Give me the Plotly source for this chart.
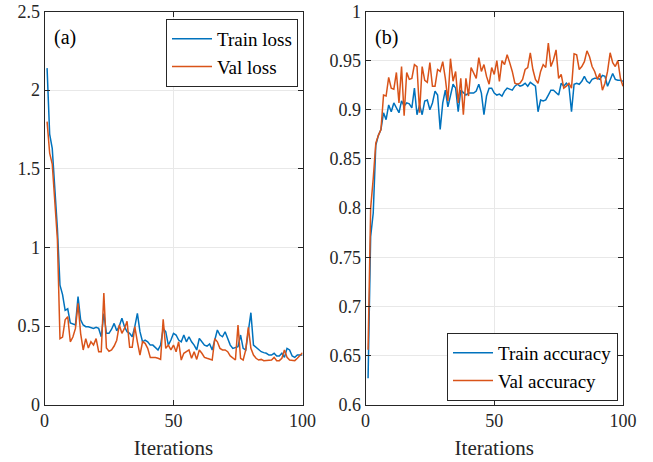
import plotly.graph_objects as go

iterations = list(range(1, 101))

train_loss = [2.14, 1.72, 1.63, 1.40, 1.12, 0.76, 0.70, 0.60, 0.61, 0.52,
              0.513, 0.507, 0.687, 0.54, 0.507, 0.496, 0.496, 0.492, 0.485, 0.492,
              0.485, 0.432, 0.58, 0.454, 0.454, 0.48, 0.517, 0.47, 0.50, 0.55,
              0.496, 0.464, 0.454, 0.432, 0.496, 0.58, 0.464, 0.40, 0.411, 0.40,
              0.379, 0.379, 0.365, 0.348, 0.379, 0.485, 0.464, 0.379, 0.411, 0.454,
              0.443, 0.411, 0.40, 0.443, 0.40, 0.432, 0.40, 0.379, 0.348, 0.422,
              0.40, 0.379, 0.373, 0.386, 0.348, 0.411, 0.475, 0.443, 0.432, 0.464,
              0.422, 0.379, 0.358, 0.365, 0.369, 0.443, 0.358, 0.348, 0.475, 0.585,
              0.379, 0.365, 0.352, 0.337, 0.331, 0.327, 0.316, 0.316, 0.327, 0.310,
              0.310, 0.327, 0.301, 0.358, 0.348, 0.310, 0.301, 0.316, 0.316, 0.316]

val_loss = [1.80, 1.60, 1.53, 1.30, 1.05, 0.42, 0.43, 0.54, 0.56, 0.40,
            0.43, 0.485, 0.644, 0.454, 0.348, 0.42, 0.36, 0.40, 0.38, 0.42,
            0.337, 0.337, 0.71, 0.36, 0.34, 0.348, 0.373, 0.41, 0.507, 0.454,
            0.485, 0.53, 0.365, 0.365, 0.496, 0.40, 0.316, 0.40, 0.39, 0.358,
            0.30, 0.30, 0.30, 0.295, 0.288, 0.543, 0.358, 0.379, 0.348, 0.379,
            0.337, 0.40, 0.284, 0.327, 0.337, 0.348, 0.295, 0.337, 0.288, 0.348,
            0.327, 0.301, 0.295, 0.288, 0.284, 0.42, 0.40, 0.358, 0.348, 0.348,
            0.337, 0.31, 0.295, 0.284, 0.507, 0.295, 0.284, 0.348, 0.492, 0.358,
            0.316, 0.295, 0.284, 0.288, 0.28, 0.28, 0.284, 0.284, 0.301, 0.28,
            0.28, 0.295, 0.348, 0.301, 0.284, 0.28, 0.28, 0.295, 0.31, 0.33]

train_acc = [0.627, 0.771, 0.795, 0.864, 0.874, 0.880, 0.897, 0.890, 0.905, 0.898,
             0.907, 0.902, 0.897, 0.909, 0.904, 0.907, 0.906, 0.902, 0.922, 0.895,
             0.905, 0.895, 0.909, 0.910, 0.900, 0.907, 0.919, 0.915, 0.880, 0.907,
             0.920, 0.903, 0.915, 0.926, 0.922, 0.898, 0.920, 0.917, 0.915, 0.917,
             0.917, 0.917, 0.919, 0.926, 0.917, 0.895, 0.914, 0.922, 0.922, 0.917,
             0.915, 0.916, 0.914, 0.919, 0.922, 0.921, 0.920, 0.924, 0.926, 0.924,
             0.925, 0.927, 0.924, 0.928, 0.926, 0.924, 0.898, 0.910, 0.909, 0.910,
             0.915, 0.920, 0.920, 0.917, 0.915, 0.927, 0.924, 0.927, 0.924, 0.898,
             0.926, 0.927, 0.926, 0.929, 0.934, 0.929, 0.927, 0.931, 0.932, 0.932,
             0.931, 0.935, 0.934, 0.924, 0.931, 0.937, 0.931, 0.930, 0.930, 0.929]

val_acc = [0.656, 0.80, 0.83, 0.866, 0.874, 0.880, 0.915, 0.914, 0.933, 0.922,
           0.921, 0.938, 0.907, 0.944, 0.894, 0.938, 0.931, 0.932, 0.946, 0.944,
           0.897, 0.944, 0.930, 0.928, 0.948, 0.924, 0.924, 0.941, 0.939, 0.949,
           0.932, 0.909, 0.952, 0.929, 0.939, 0.907, 0.932, 0.895, 0.932, 0.914,
           0.943, 0.937, 0.932, 0.953, 0.939, 0.946, 0.934, 0.926, 0.943, 0.936,
           0.950, 0.929, 0.950, 0.946, 0.956, 0.948, 0.939, 0.927, 0.926, 0.927,
           0.931, 0.941, 0.943, 0.958, 0.941, 0.931, 0.927, 0.939, 0.946, 0.943,
           0.968, 0.944, 0.951, 0.961, 0.932, 0.936, 0.922, 0.924, 0.927, 0.922,
           0.957, 0.956, 0.941, 0.944, 0.949, 0.960, 0.954, 0.944, 0.939, 0.931,
           0.937, 0.920, 0.927, 0.939, 0.958, 0.948, 0.944, 0.950, 0.932, 0.924]

x_ticks = [0, 50, 100]
x_ticklabels = ["0", "50", "100"]
loss_ticks = [0, 0.5, 1, 1.5, 2, 2.5]
loss_ticklabels = ["0", "0.5", "1", "1.5", "2", "2.5"]
acc_ticks = [0.6, 0.65, 0.7, 0.75, 0.8, 0.85, 0.9, 0.95, 1.0]
acc_ticklabels = ["0.6", "0.65", "0.7", "0.75", "0.8", "0.85", "0.9", "0.95", "1"]

BLUE = "#0072BD"
ORANGE = "#D95319"
AXC = "#262626"
FONT = "'Liberation Serif', 'Times New Roman', Times, serif"
W, H = 653, 462

fig = go.Figure()
fig.add_trace(go.Scatter(x=iterations, y=train_loss, mode="lines", name="Train loss",
                         line=dict(color=BLUE, width=1.5), xaxis="x", yaxis="y", legend="legend"))
fig.add_trace(go.Scatter(x=iterations, y=val_loss, mode="lines", name="Val loss",
                         line=dict(color=ORANGE, width=1.5), xaxis="x", yaxis="y", legend="legend"))
fig.add_trace(go.Scatter(x=iterations, y=train_acc, mode="lines", name="Train accuracy",
                         line=dict(color=BLUE, width=1.5), xaxis="x2", yaxis="y2", legend="legend2"))
fig.add_trace(go.Scatter(x=iterations, y=val_acc, mode="lines", name="Val accuracy",
                         line=dict(color=ORANGE, width=1.5), xaxis="x2", yaxis="y2", legend="legend2"))

ydom = [(H - 404.7) / H, (H - 11.5) / H]
common = dict(showline=True, linecolor=AXC, linewidth=1, mirror="ticks", ticks="inside",
              ticklen=5, tickcolor=AXC, showgrid=True, gridcolor="#e8e8e8", gridwidth=1,
              zeroline=False, automargin=False, tickfont=dict(family=FONT, size=18, color=AXC))
xtitle = dict(text="Iterations", font=dict(family=FONT, size=21, color=AXC), standoff=10)

fig.update_layout(
    width=W, height=H,
    margin=dict(l=0, r=0, t=0, b=0),
    paper_bgcolor="white", plot_bgcolor="white",
    font=dict(family=FONT, color=AXC),
    xaxis=dict(domain=[44.5 / W, 302.5 / W], range=[0, 100], tickvals=x_ticks, ticktext=x_ticklabels,
               title=xtitle, anchor="y", **common),
    yaxis=dict(domain=ydom, range=[0, 2.5], tickvals=loss_ticks, ticktext=loss_ticklabels,
               anchor="x", **common),
    xaxis2=dict(domain=[365.5 / W, 623 / W], range=[0, 100], tickvals=x_ticks, ticktext=x_ticklabels,
                title=xtitle, anchor="y2", **common),
    yaxis2=dict(domain=ydom, range=[0.6, 1.0], tickvals=acc_ticks, ticktext=acc_ticklabels,
                anchor="x2", **common),
    legend=dict(x=298 / W, y=1 - 19 / H, xanchor="right", yanchor="top",
                bgcolor="white", bordercolor=AXC, borderwidth=1, itemwidth=40,
                font=dict(family=FONT, size=19, color="black"), tracegroupgap=0),
    legend2=dict(x=618 / W, y=1 - 401 / H, xanchor="right", yanchor="bottom",
                 bgcolor="white", bordercolor=AXC, borderwidth=1, itemwidth=40,
                 font=dict(family=FONT, size=19, color="black"), tracegroupgap=0),
    annotations=[
        dict(text="(a)", x=52 / W, y=1 - 38 / H, xref="paper", yref="paper", xanchor="left",
             yanchor="middle", showarrow=False, font=dict(family=FONT, size=20, color="black")),
        dict(text="(b)", x=373 / W, y=1 - 38 / H, xref="paper", yref="paper", xanchor="left",
             yanchor="middle", showarrow=False, font=dict(family=FONT, size=20, color="black")),
    ],
)

fig.write_html("out.html")
